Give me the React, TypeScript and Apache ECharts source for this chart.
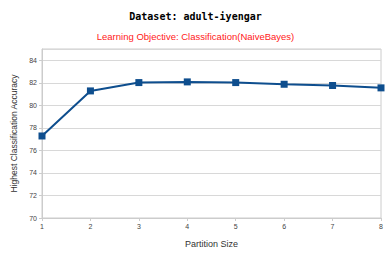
import React, { useEffect, useRef } from "react";
import * as echarts from "echarts";

const partitions = [1, 2, 3, 4, 5, 6, 7, 8];
const accuracy = [77.28, 81.28, 82.02, 82.08, 82.02, 81.87, 81.76, 81.55];
const titleText = "Dataset: adult-iyengar";
const subtitleText = "Learning Objective: Classification(NaiveBayes)";

export default function App() {
  const ref = useRef<HTMLDivElement>(null);
  useEffect(() => {
    if (!ref.current) return;
    const chart = echarts.init(ref.current, null, { renderer: "svg" });
    chart.setOption({
      animation: false,
      backgroundColor: "#ffffff",
      title: [
        {
          text: titleText,
          left: "center",
          top: 6,
          textStyle: { fontFamily: "DejaVu Sans Mono", fontSize: 10, fontWeight: "bold", color: "#000" },
        },
        {
          text: subtitleText,
          left: "center",
          top: 26,
          textStyle: { fontFamily: "Liberation Sans", fontSize: 9.5, fontWeight: "normal", color: "#ff2020" },
        },
      ],
      grid: { left: 42, right: 10, top: 49, bottom: 40, show: true, borderColor: "#cccccc", borderWidth: 1 },
      xAxis: {
        type: "value",
        min: 1,
        max: 8,
        interval: 1,
        name: "Partition Size",
        nameLocation: "middle",
        nameGap: 21,
        nameTextStyle: { fontFamily: "Liberation Sans", fontSize: 9, color: "#333" },
        axisLine: { lineStyle: { color: "#cccccc" } },
        axisTick: { show: true, length: 3, lineStyle: { color: "#cccccc" } },
        axisLabel: { fontFamily: "Liberation Sans", fontSize: 7, color: "#444", margin: 5 },
        splitLine: { show: false },
      },
      yAxis: {
        type: "value",
        min: 70,
        max: 85,
        interval: 2,
        name: "Highest Classification Accuracy",
        nameLocation: "middle",
        nameGap: 24,
        nameTextStyle: { fontFamily: "Liberation Sans", fontSize: 8.5, color: "#333" },
        axisLine: { show: true, lineStyle: { color: "#cccccc" } },
        axisTick: { show: true, length: 3, lineStyle: { color: "#cccccc" } },
        axisLabel: { fontFamily: "Liberation Sans", fontSize: 7, color: "#444", margin: 5, showMaxLabel: false },
        splitLine: { show: true, lineStyle: { color: "#d8d8d8" } },
      },
      series: [
        {
          type: "line",
          data: partitions.map((p, i) => [p, accuracy[i]]),
          symbol: "rect",
          symbolSize: 7,
          lineStyle: { color: "#0e4e8e", width: 2 },
          itemStyle: { color: "#0e4e8e" },
        },
      ],
    });
    return () => chart.dispose();
  }, []);
  return <div ref={ref} style={{ position: "absolute", left: 0, top: 0, width: 391, height: 258 }} />;
}
